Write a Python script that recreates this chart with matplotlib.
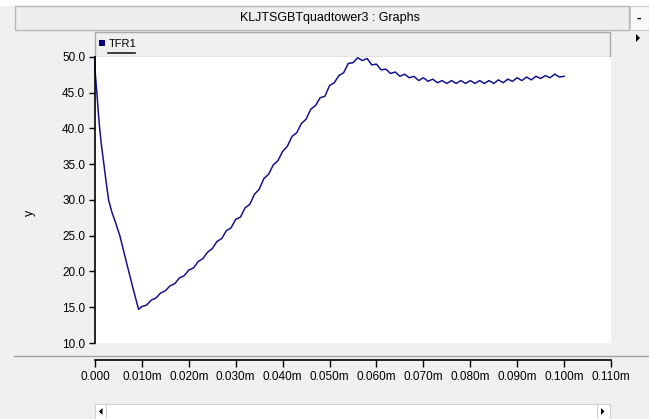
import matplotlib.pyplot as plt
from matplotlib.patches import Rectangle, Polygon

# curve (time in s, value of TFR1)
t_fall = [0.0, 0.0, 0.0004, 0.0007, 0.0010, 0.0014, 0.0019, 0.0024, 0.0029,
          0.0036, 0.0044, 0.0053, 0.0062, 0.0072, 0.0082, 0.0093]
y_fall = [50.0, 48.2, 45.0, 42.3, 40.0, 37.5, 35.0, 32.4, 30.0,
          28.3, 26.8, 25.0, 22.6, 20.0, 17.4, 14.7]

t_rise = [i / 1000 for i in range(10, 101)]
y_rise = [15.1, 15.3, 16.0, 16.3, 17.0, 17.3, 18.0, 18.3, 19.1, 19.4,
          20.2, 20.5, 21.4, 21.8, 22.7, 23.2, 24.2, 24.6, 25.7, 26.1,
          27.3, 27.6, 28.9, 29.4, 30.8, 31.5, 33.0, 33.6, 34.9, 35.5,
          36.8, 37.5, 38.9, 39.4, 40.7, 41.3, 42.7, 43.2, 44.3, 44.5,
          46.0, 46.4, 47.4, 47.8, 49.1, 49.2, 49.9, 49.5, 49.8, 48.9,
          49.0, 48.2, 48.3, 47.7, 47.9, 47.3, 47.6, 47.1, 47.3, 46.7,
          47.1, 46.6, 46.9, 46.4, 46.7, 46.3, 46.7, 46.3, 46.7, 46.3,
          46.7, 46.3, 46.7, 46.3, 46.7, 46.3, 46.8, 46.4, 46.9, 46.6,
          47.1, 46.7, 47.2, 46.8, 47.3, 47.0, 47.4, 47.1, 47.6, 47.2,
          47.3]

t = t_fall + t_rise
y = y_fall + y_rise

yticks = [10.0, 15.0, 20.0, 25.0, 30.0, 35.0, 40.0, 45.0, 50.0]
xticks = [i / 100 for i in range(12)]
xlabels = ['0.000'] + ['0.%03dm' % (10 * i) for i in range(1, 12)]

title = 'KLJTSGBTquadtower3 : Graphs'
series_name = 'TFR1'

W, H = 649, 419
plt.rcParams['font.family'] = ['Liberation Sans', 'DejaVu Sans']


def box(x0, y0, w, h):
    return [x0 / W, 1 - (y0 + h) / H, w / W, h / H]


fig = plt.figure(figsize=(W / 100, H / 100), dpi=100)
fig.patch.set_facecolor('#F0F0F0')

# window chrome drawn in pixel coords
bg = fig.add_axes([0, 0, 1, 1])
bg.set_xlim(0, W)
bg.set_ylim(H, 0)
bg.axis('off')
bg.add_patch(Rectangle((0, 0), W, 6, fc='white', ec='none'))
bg.add_patch(Rectangle((15, 6), 614, 24, fc='#EEEEEE', ec='#B8B8B8', lw=1))
bg.add_patch(Rectangle((630, 6), 19, 24, fc='#FAFAFA', ec='#C8C8C8', lw=0.8))
bg.text(639, 18, '-', ha='center', va='center', fontsize=10, fontweight='bold')
bg.text(330, 18, title, ha='center', va='center', fontsize=9)
bg.add_patch(Polygon([(636, 34), (636, 42), (640, 38)], closed=True, fc='black'))

# legend bar
bg.add_patch(Rectangle((95, 32), 515, 25, fc='#EFEFEF', ec='#A8A8A8', lw=1))
bg.add_patch(Rectangle((98.5, 40.5), 6, 6, fc='#00007F', ec='none'))
bg.text(109, 44, series_name, ha='left', va='center', fontsize=8)
bg.plot([108, 135], [53, 53], color='#202020', lw=1.2)

# separator and scrollbar
bg.plot([14, W], [356, 356], color='#A0A0A0', lw=1)
bg.add_patch(Rectangle((95, 404), 515, 16, fc='white', ec='#D0D0D0', lw=0.8))
bg.plot([106, 106], [404, 419], color='#D0D0D0', lw=0.8)
bg.plot([597, 597], [404, 419], color='#D0D0D0', lw=0.8)
bg.add_patch(Polygon([(102.5, 408), (102.5, 415), (99, 411.5)], closed=True, fc='black'))
bg.add_patch(Polygon([(601, 408), (601, 415), (604.5, 411.5)], closed=True, fc='black'))

# y label
bg.text(30, 213, 'y', rotation=90, ha='center', va='center', fontsize=9)

# main plot area
ax = fig.add_axes(box(95, 57, 516, 286))
ax.set_facecolor('white')
ax.plot(t, y, color='#14148C', lw=1.1, clip_on=False)
ax.set_xlim(0, 0.11)
ax.set_ylim(10, 50)
for s in ['top', 'right', 'bottom']:
    ax.spines[s].set_visible(False)
ax.spines['left'].set_color('black')
ax.spines['left'].set_linewidth(1.2)
ax.set_xticks([])
ax.set_yticks(yticks)
ax.set_yticklabels(['%.1f' % v for v in yticks])
ax.tick_params(axis='y', length=4, width=1, pad=3, labelsize=8.5, colors='black')

# separate time axis under the plot
xa = fig.add_axes(box(95, 359, 516, 1))
xa.patch.set_visible(False)
for s in ['top', 'right', 'left']:
    xa.spines[s].set_visible(False)
xa.spines['bottom'].set_linewidth(1.2)
xa.set_xlim(0, 0.11)
xa.set_yticks([])
xa.set_xticks(xticks)
xa.set_xticklabels(xlabels)
xa.tick_params(axis='x', direction='in', length=5, width=1, pad=8, labelsize=8.5)
# ticks point down from the line
for tl in xa.xaxis.get_ticklines():
    tl.set_marker(3)

fig.savefig('out.png', dpi=100, facecolor=fig.get_facecolor())
